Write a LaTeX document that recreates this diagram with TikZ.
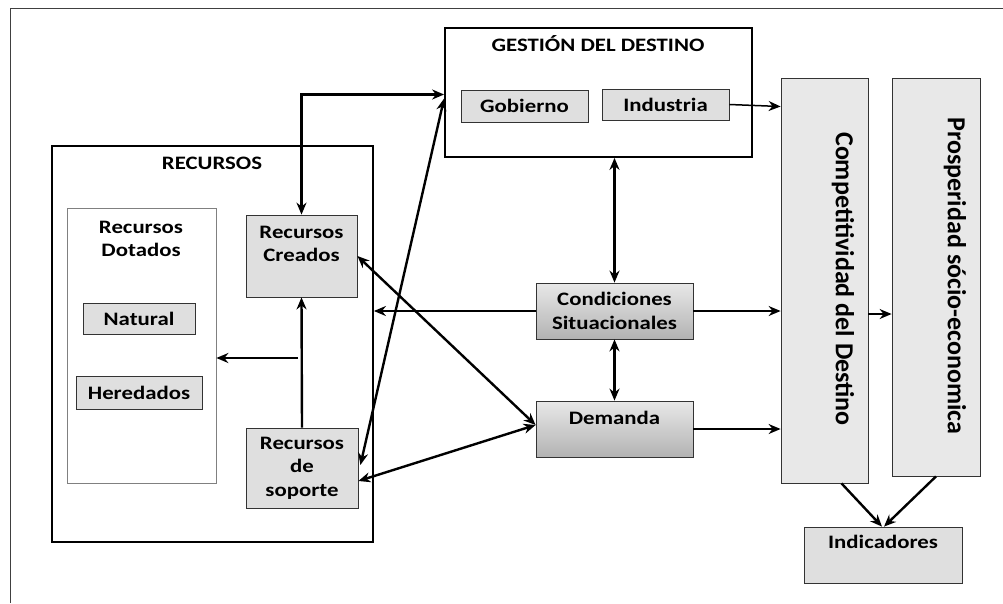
\documentclass[tikz,border=0pt]{standalone}
\usepackage{fontspec}
\setmainfont{Carlito}[FakeStretch=1.2]
\newfontfamily\bigfont{Carlito}
\usetikzlibrary{positioning,arrows.meta}

\begin{document}
\begin{tikzpicture}[x=1pt,y=-1pt,>={Stealth[length=12pt,width=10pt]},
  frame/.style={draw=black,line width=1.8pt},
  box/.style={draw=black!80,line width=0.8pt,fill=gray!25,inner sep=0pt,
    font=\fontsize{19}{23.5}\selectfont\bfseries,align=center},
  darkbox/.style={box,top color=gray!18,bottom color=gray!60},
  tallbox/.style={box,fill=gray!18},
  lbl/.style={font=\fontsize{19}{23.5}\selectfont\bfseries,align=center,inner sep=0pt},
  vlbl/.style={rotate=-90,inner sep=0pt,font=\bigfont\fontsize{26}{30}\selectfont\bfseries},
  link/.style={line width=2.4pt},
  thin link/.style={line width=1.5pt}]

\useasboundingbox (0,0) rectangle (1003,603);
\draw[black!75,line width=1pt] (10,603) -- (10,8) -- (1003,8);

% gestion del destino
\node[frame,minimum width=307pt,minimum height=129pt] (gestion) at (598.5,92.5) {};
\node[lbl,anchor=base] (gestiontit) at (598,51) {GESTIÓN DEL DESTINO};
\node[box,minimum width=127pt,minimum height=32pt] (gobierno) at (524.5,106) {Gobierno};
\node[box,minimum width=127pt,minimum height=31pt] (industria) at (665.5,104.5) {Industria};

% recursos
\node[frame,minimum width=321pt,minimum height=396pt] (recursos) at (212.5,344) {};
\node[lbl,anchor=base] (recursostit) at (212,169) {RECURSOS};
\node[draw=gray,line width=0.7pt,minimum width=149pt,minimum height=275pt] (dotados) at (141.5,345.5) {};
\node[lbl] (dotadostit) at (141,239) {Recursos\\Dotados};
\node[box,minimum width=112pt,minimum height=31pt] (natural) at (139,318.5) {Natural};
\node[box,minimum width=126pt,minimum height=33pt] (heredados) at (139,392.5) {Heredados};
\node[box,minimum width=111pt,minimum height=82pt] (creados) at (301.5,256) {};
\node[lbl] (creadostxt) at (301.5,244) {Recursos\\Creados};
\node[box,minimum width=112pt,minimum height=80pt] (soporte) at (302,468) {Recursos\\de\\soporte};

% condiciones y demanda
\node[darkbox,minimum width=157pt,minimum height=56pt] (condiciones) at (614.5,311) {Condiciones\\Situacionales};
\node[darkbox,minimum width=157pt,minimum height=56pt] (demanda) at (614.5,429) {};
\node[lbl] (demandatxt) at (614.5,418) {Demanda};

% competitividad, prosperidad
\node[tallbox,minimum width=87pt,minimum height=405pt] (compet) at (824.5,280.5) {};
\node[vlbl] (competxt) at (843,279) {Competitividad del Destino};
\node[tallbox,minimum width=88pt,minimum height=398pt] (prosp) at (936,277) {};
\node[vlbl] (prosptxt) at (955,276) {Prosperidad sócio-economica};
\node[box,minimum width=158pt,minimum height=56pt] (indic) at (883,555) {};
\node[lbl] (indictxt) at (883,542) {Indicadores};

\coordinate (branch) at (298,358);

% flechas
\draw[link,->] (soporte.north) -- (creados.south);
\draw[link,->] (branch) -- (dotados.east |- branch);
\draw[link,<->] (creados.north) |- ([yshift=-2pt]gestion.west);
\draw[link,<->] ([yshift=-6pt]gestion.west) -- ([xshift=2pt,yshift=3pt]soporte.east);
\draw[link,<->] (creados.east) -- ([yshift=4pt]demanda.west);
\draw[link,<->] ([yshift=-13pt]soporte.east) -- ([yshift=4pt]demanda.west);
\draw[link,->] (condiciones.west) -- (recursos.east |- condiciones.west);
\draw[link,<->] (condiciones.north) -- (condiciones.north |- gestion.south);
\draw[link,<->] (condiciones.south) -- (demanda.north);
\draw[thin link,->] (condiciones.east) -- (compet.west |- condiciones.east);
\draw[thin link,->] (demanda.east) -- (compet.west |- demanda.east);
\draw[thin link,->] (industria.east) -- ([yshift=-2pt]compet.west |- industria.east);
\draw[thin link,->] (compet.east |- 0,314) -- (prosp.west |- 0,314);
\draw[link,->] ([xshift=17pt]compet.south) -- ([xshift=-1pt]indic.north);
\draw[link,->] (prosp.south) -- ([xshift=1pt]indic.north);

\end{tikzpicture}
\end{document}
